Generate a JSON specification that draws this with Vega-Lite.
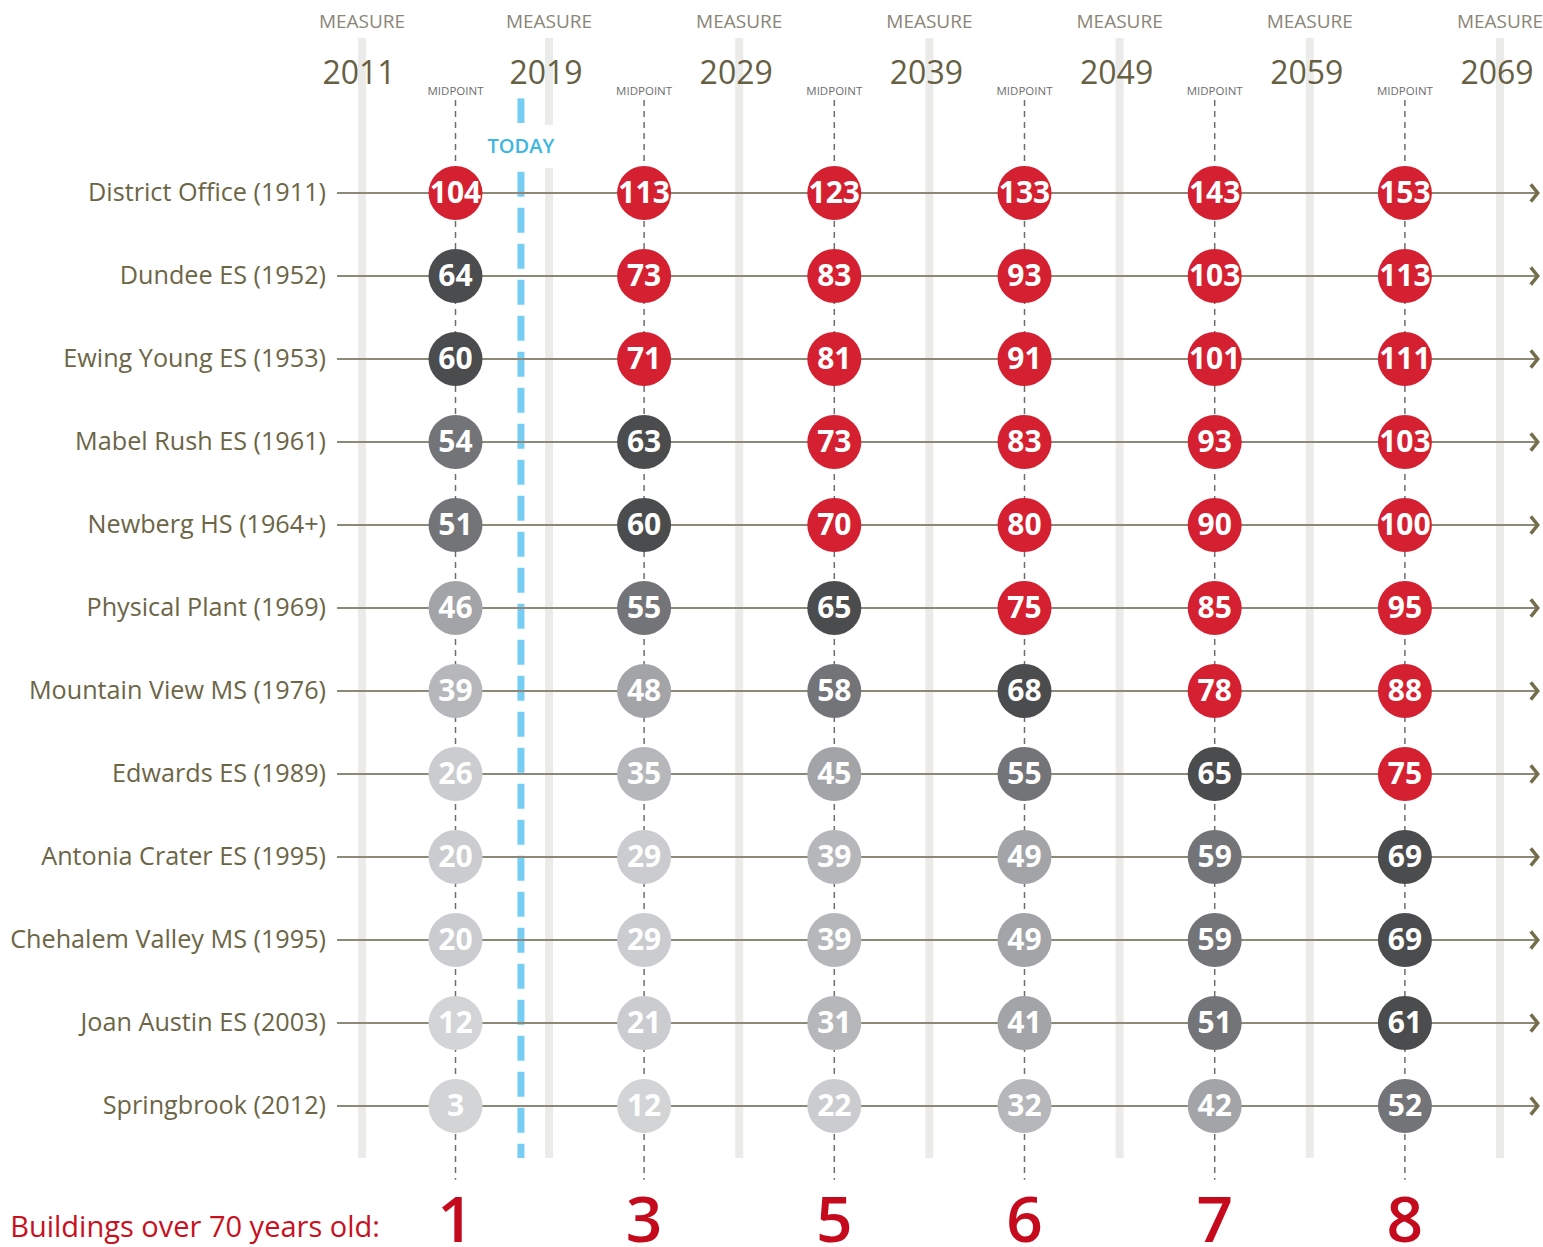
{
  "$schema": "https://vega.github.io/schema/vega-lite/v6.json",
  "width": 1543,
  "height": 1247,
  "autosize": {"type": "fit", "contains": "padding"},
  "padding": 0,
  "background": "white",
  "config": {"view": {"stroke": null}, "font": "Open Sans"},
  "datasets": {
    "buildings": [
      {"building": "District Office (1911)"},
      {"building": "Dundee ES (1952)"},
      {"building": "Ewing Young ES (1953)"},
      {"building": "Mabel Rush ES (1961)"},
      {"building": "Newberg HS (1964+)"},
      {"building": "Physical Plant (1969)"},
      {"building": "Mountain View MS (1976)"},
      {"building": "Edwards ES (1989)"},
      {"building": "Antonia Crater ES (1995)"},
      {"building": "Chehalem Valley MS (1995)"},
      {"building": "Joan Austin ES (2003)"},
      {"building": "Springbrook (2012)"}
    ],
    "measures": [
      {"year": 2011}, {"year": 2019}, {"year": 2029}, {"year": 2039}, {"year": 2049}, {"year": 2059}, {"year": 2069}
    ],
    "midpoints": [
      {"year": 2015, "count": 1},
      {"year": 2024, "count": 3},
      {"year": 2034, "count": 5},
      {"year": 2044, "count": 6},
      {"year": 2054, "count": 7},
      {"year": 2064, "count": 8}
    ],
    "ages": [
      {"building": "District Office (1911)", "year": 2015, "age": 104},
      {"building": "District Office (1911)", "year": 2024, "age": 113},
      {"building": "District Office (1911)", "year": 2034, "age": 123},
      {"building": "District Office (1911)", "year": 2044, "age": 133},
      {"building": "District Office (1911)", "year": 2054, "age": 143},
      {"building": "District Office (1911)", "year": 2064, "age": 153},
      {"building": "Dundee ES (1952)", "year": 2015, "age": 64},
      {"building": "Dundee ES (1952)", "year": 2024, "age": 73},
      {"building": "Dundee ES (1952)", "year": 2034, "age": 83},
      {"building": "Dundee ES (1952)", "year": 2044, "age": 93},
      {"building": "Dundee ES (1952)", "year": 2054, "age": 103},
      {"building": "Dundee ES (1952)", "year": 2064, "age": 113},
      {"building": "Ewing Young ES (1953)", "year": 2015, "age": 60},
      {"building": "Ewing Young ES (1953)", "year": 2024, "age": 71},
      {"building": "Ewing Young ES (1953)", "year": 2034, "age": 81},
      {"building": "Ewing Young ES (1953)", "year": 2044, "age": 91},
      {"building": "Ewing Young ES (1953)", "year": 2054, "age": 101},
      {"building": "Ewing Young ES (1953)", "year": 2064, "age": 111},
      {"building": "Mabel Rush ES (1961)", "year": 2015, "age": 54},
      {"building": "Mabel Rush ES (1961)", "year": 2024, "age": 63},
      {"building": "Mabel Rush ES (1961)", "year": 2034, "age": 73},
      {"building": "Mabel Rush ES (1961)", "year": 2044, "age": 83},
      {"building": "Mabel Rush ES (1961)", "year": 2054, "age": 93},
      {"building": "Mabel Rush ES (1961)", "year": 2064, "age": 103},
      {"building": "Newberg HS (1964+)", "year": 2015, "age": 51},
      {"building": "Newberg HS (1964+)", "year": 2024, "age": 60},
      {"building": "Newberg HS (1964+)", "year": 2034, "age": 70},
      {"building": "Newberg HS (1964+)", "year": 2044, "age": 80},
      {"building": "Newberg HS (1964+)", "year": 2054, "age": 90},
      {"building": "Newberg HS (1964+)", "year": 2064, "age": 100},
      {"building": "Physical Plant (1969)", "year": 2015, "age": 46},
      {"building": "Physical Plant (1969)", "year": 2024, "age": 55},
      {"building": "Physical Plant (1969)", "year": 2034, "age": 65},
      {"building": "Physical Plant (1969)", "year": 2044, "age": 75},
      {"building": "Physical Plant (1969)", "year": 2054, "age": 85},
      {"building": "Physical Plant (1969)", "year": 2064, "age": 95},
      {"building": "Mountain View MS (1976)", "year": 2015, "age": 39},
      {"building": "Mountain View MS (1976)", "year": 2024, "age": 48},
      {"building": "Mountain View MS (1976)", "year": 2034, "age": 58},
      {"building": "Mountain View MS (1976)", "year": 2044, "age": 68},
      {"building": "Mountain View MS (1976)", "year": 2054, "age": 78},
      {"building": "Mountain View MS (1976)", "year": 2064, "age": 88},
      {"building": "Edwards ES (1989)", "year": 2015, "age": 26},
      {"building": "Edwards ES (1989)", "year": 2024, "age": 35},
      {"building": "Edwards ES (1989)", "year": 2034, "age": 45},
      {"building": "Edwards ES (1989)", "year": 2044, "age": 55},
      {"building": "Edwards ES (1989)", "year": 2054, "age": 65},
      {"building": "Edwards ES (1989)", "year": 2064, "age": 75},
      {"building": "Antonia Crater ES (1995)", "year": 2015, "age": 20},
      {"building": "Antonia Crater ES (1995)", "year": 2024, "age": 29},
      {"building": "Antonia Crater ES (1995)", "year": 2034, "age": 39},
      {"building": "Antonia Crater ES (1995)", "year": 2044, "age": 49},
      {"building": "Antonia Crater ES (1995)", "year": 2054, "age": 59},
      {"building": "Antonia Crater ES (1995)", "year": 2064, "age": 69},
      {"building": "Chehalem Valley MS (1995)", "year": 2015, "age": 20},
      {"building": "Chehalem Valley MS (1995)", "year": 2024, "age": 29},
      {"building": "Chehalem Valley MS (1995)", "year": 2034, "age": 39},
      {"building": "Chehalem Valley MS (1995)", "year": 2044, "age": 49},
      {"building": "Chehalem Valley MS (1995)", "year": 2054, "age": 59},
      {"building": "Chehalem Valley MS (1995)", "year": 2064, "age": 69},
      {"building": "Joan Austin ES (2003)", "year": 2015, "age": 12},
      {"building": "Joan Austin ES (2003)", "year": 2024, "age": 21},
      {"building": "Joan Austin ES (2003)", "year": 2034, "age": 31},
      {"building": "Joan Austin ES (2003)", "year": 2044, "age": 41},
      {"building": "Joan Austin ES (2003)", "year": 2054, "age": 51},
      {"building": "Joan Austin ES (2003)", "year": 2064, "age": 61},
      {"building": "Springbrook (2012)", "year": 2015, "age": 3},
      {"building": "Springbrook (2012)", "year": 2024, "age": 12},
      {"building": "Springbrook (2012)", "year": 2034, "age": 22},
      {"building": "Springbrook (2012)", "year": 2044, "age": 32},
      {"building": "Springbrook (2012)", "year": 2054, "age": 42},
      {"building": "Springbrook (2012)", "year": 2064, "age": 52}
    ]
  },
  "resolve": {"scale": {"y": "independent"}},
  "layer": [
    {
      "layer": [
        {
          "data": {"name": "measures"},
          "mark": {"type": "rule", "color": "#ebebea", "strokeWidth": 8},
          "encoding": {
            "x": {"field": "year", "type": "quantitative", "axis": null, "scale": {"domain": [2011, 2019, 2069], "range": [362, 549, 1500], "nice": false, "zero": false}},
            "y": {"datum": -0.867, "type": "quantitative", "axis": null, "scale": {"domain": [1, 12], "range": [193, 1106], "nice": false, "zero": false}},
            "y2": {"datum": 12.627}
          }
        },
        {
          "data": {"values": [{}]},
          "mark": {"type": "rect", "color": "white"},
          "encoding": {
            "x": {"datum": 2016.3, "type": "quantitative"},
            "x2": {"datum": 2019.4},
            "y": {"datum": 0.181, "type": "quantitative"},
            "y2": {"datum": 0.699}
          }
        },
        {
          "data": {"values": [{}]},
          "mark": {"type": "rule", "color": "#78cdf2", "strokeWidth": 7},
          "encoding": {
            "x": {"datum": 2017.8, "type": "quantitative"},
            "y": {"datum": -0.14, "type": "quantitative"},
            "y2": {"datum": 0.157}
          }
        },
        {
          "data": {"values": [{}]},
          "mark": {"type": "rule", "color": "#78cdf2", "strokeWidth": 7, "strokeDash": [25, 11]},
          "encoding": {
            "x": {"datum": 2017.8, "type": "quantitative"},
            "y": {"datum": 0.743, "type": "quantitative"},
            "y2": {"datum": 12.627}
          }
        },
        {
          "data": {"name": "midpoints"},
          "mark": {"type": "rule", "color": "#6e6e6e", "strokeWidth": 1.5, "strokeDash": [6, 5]},
          "encoding": {
            "x": {"field": "year", "type": "quantitative"},
            "y": {"datum": -0.12, "type": "quantitative"},
            "y2": {"datum": 12.89}
          }
        }
      ]
    },
    {
      "layer": [
        {
          "data": {"name": "buildings"},
          "mark": {"type": "rule", "color": "#8d8877", "strokeWidth": 2},
          "encoding": {
            "x": {"datum": 2009.93, "type": "quantitative"},
            "x2": {"datum": 2071.0},
            "y": {"field": "building", "type": "nominal", "axis": null, "scale": {"type": "point", "domain": ["District Office (1911)", "Dundee ES (1952)", "Ewing Young ES (1953)", "Mabel Rush ES (1961)", "Newberg HS (1964+)", "Physical Plant (1969)", "Mountain View MS (1976)", "Edwards ES (1989)", "Antonia Crater ES (1995)", "Chehalem Valley MS (1995)", "Joan Austin ES (2003)", "Springbrook (2012)"], "range": [193, 1106], "padding": 0}}
          }
        },
        {
          "data": {"name": "buildings"},
          "mark": {"type": "point", "shape": "M-0.4,-1L0.4,0L-0.4,1", "filled": false, "stroke": "#756e4c", "strokeWidth": 3.5, "size": 300, "opacity": 1},
          "encoding": {
            "x": {"datum": 2070.8, "type": "quantitative"},
            "y": {"field": "building", "type": "nominal"}
          }
        },
        {
          "data": {"name": "ages"},
          "mark": {"type": "circle", "size": 2916, "opacity": 1},
          "encoding": {
            "x": {"field": "year", "type": "quantitative"},
            "y": {"field": "building", "type": "nominal"},
            "color": {"field": "age", "type": "quantitative", "legend": null, "scale": {"type": "threshold", "domain": [20, 30, 40, 50, 60, 70], "range": ["#d3d4d6", "#cbcccf", "#b6b7ba", "#a3a4a7", "#737477", "#4b4c4e", "#d42030"]}}
          }
        },
        {
          "data": {"name": "ages"},
          "mark": {"type": "text", "color": "white", "fontSize": 30, "fontWeight": "bold", "baseline": "middle", "align": "center", "dy": 1},
          "encoding": {
            "x": {"field": "year", "type": "quantitative"},
            "y": {"field": "building", "type": "nominal"},
            "text": {"field": "age", "type": "quantitative"}
          }
        },
        {
          "data": {"name": "buildings"},
          "mark": {"type": "text", "color": "#6c6546", "fontSize": 25.2, "align": "right", "baseline": "middle"},
          "encoding": {
            "x": {"datum": 2009.46, "type": "quantitative"},
            "y": {"field": "building", "type": "nominal"},
            "text": {"field": "building", "type": "nominal"}
          }
        }
      ]
    },
    {
      "layer": [
        {
          "data": {"name": "measures"},
          "mark": {"type": "text", "text": "MEASURE", "color": "#8a8577", "fontSize": 19, "align": "center", "baseline": "alphabetic"},
          "encoding": {
            "x": {"field": "year", "type": "quantitative"},
            "y": {"datum": -0.99, "type": "quantitative", "axis": null, "scale": {"domain": [1, 12], "range": [193, 1106], "nice": false, "zero": false}}
          }
        },
        {
          "data": {"name": "measures"},
          "mark": {"type": "text", "color": "#675f44", "fontSize": 32, "align": "center", "baseline": "alphabetic", "dx": -3},
          "encoding": {
            "x": {"field": "year", "type": "quantitative"},
            "y": {"datum": -0.31, "type": "quantitative"},
            "text": {"field": "year", "type": "quantitative", "format": "d"}
          }
        },
        {
          "data": {"name": "midpoints"},
          "mark": {"type": "text", "text": "MIDPOINT", "color": "#6d6d6d", "fontSize": 11.5, "align": "center", "baseline": "alphabetic"},
          "encoding": {
            "x": {"field": "year", "type": "quantitative"},
            "y": {"datum": -0.181, "type": "quantitative"}
          }
        },
        {
          "data": {"values": [{}]},
          "mark": {"type": "text", "text": "TODAY", "color": "#3db7df", "fontSize": 20, "fontWeight": 600, "align": "center", "baseline": "alphabetic"},
          "encoding": {
            "x": {"datum": 2017.8, "type": "quantitative"},
            "y": {"datum": 0.522, "type": "quantitative"}
          }
        },
        {
          "data": {"values": [{}]},
          "mark": {"type": "text", "text": "Buildings over 70 years old:", "color": "#c8101e", "fontSize": 29, "align": "left", "baseline": "alphabetic"},
          "encoding": {
            "x": {"datum": 1995.95, "type": "quantitative"},
            "y": {"datum": 13.578, "type": "quantitative"}
          }
        },
        {
          "data": {"name": "midpoints"},
          "mark": {"type": "text", "color": "#c40a1c", "fontSize": 64, "fontWeight": 600, "align": "center", "baseline": "alphabetic"},
          "encoding": {
            "x": {"field": "year", "type": "quantitative"},
            "y": {"datum": 13.64, "type": "quantitative"},
            "text": {"field": "count", "type": "quantitative"}
          }
        }
      ]
    }
  ]
}
